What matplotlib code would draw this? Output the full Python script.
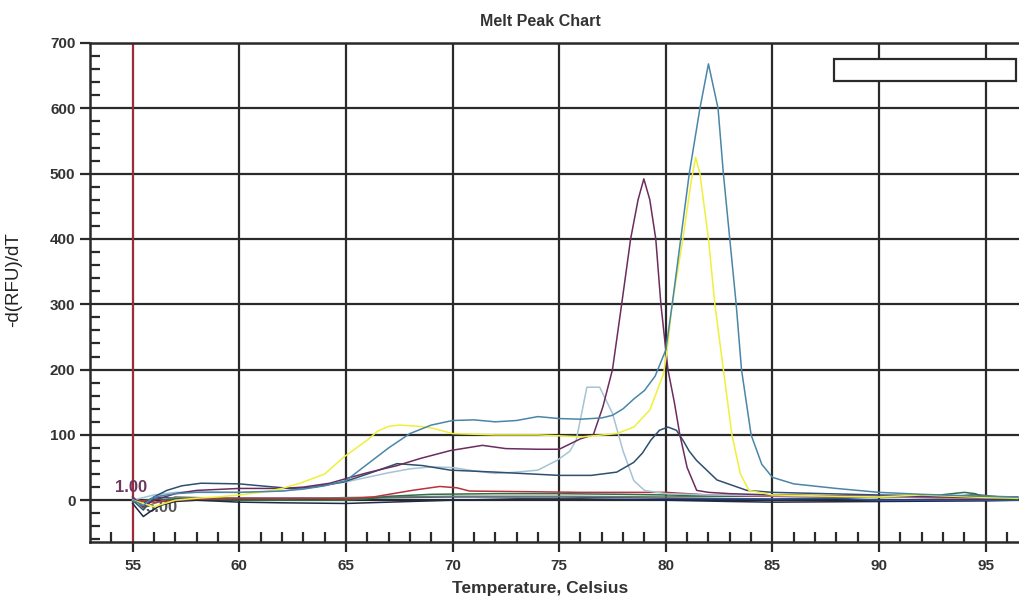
import matplotlib.pyplot as plt
from matplotlib.patches import Rectangle

plt.rcParams['font.family'] = ['Liberation Sans', 'DejaVu Sans']

# melt curves (temperature, -d(RFU)/dT)
steel_t = [55, 55.5, 56, 57, 58, 60, 62, 63, 64, 65, 66, 67, 68, 69, 70, 71, 72, 73, 74, 75, 76, 77,
           77.5, 78, 78.5, 79, 79.5, 80, 80.3, 80.7, 81.1, 81.6, 82.0, 82.45, 82.7, 83.0, 83.3, 83.55,
           84.0, 84.5, 85, 86, 88, 90, 92, 94, 95, 96.5]
steel_v = [0, -8, 5, 10, 12, 12, 14, 17, 22, 30, 55, 80, 102, 115, 122, 123, 120, 122, 128, 125, 124, 126,
           130, 140, 155, 168, 190, 230, 300, 400, 500, 600, 668, 600, 500, 400, 300, 200,
           100, 55, 35, 25, 18, 12, 9, 7, 6, 5]

grey_t = [55, 56, 57, 58, 60, 62, 63, 65, 66, 67, 68, 69, 70, 71, 72, 73, 74, 74.9, 75.5, 75.8, 76.3,
          76.9, 77.5, 78, 78.5, 79, 80, 82, 85, 90, 95, 96.5]
grey_v = [0, 8, 12, 13, 12, 14, 18, 28, 35, 42, 48, 51, 50, 45, 41, 43, 46, 61, 75, 92, 173,
          173, 133, 75, 30, 15, 10, 8, 7, 5, 4, 4]

yellow_t = [55, 56, 57, 58, 59, 60, 61, 62, 62.85, 64, 64.9, 66, 66.5, 67, 67.5, 68.5, 69.1, 70, 72, 74,
            76.1, 77.7, 78.5, 79.25, 79.9, 80.1, 80.3, 80.8, 81.2, 81.4, 81.6, 82.0, 82.3, 82.7, 83.1,
            83.5, 83.9, 85, 88, 90, 92, 95, 96.5]
yellow_v = [0, -10, 0, 3, 5, 8, 12, 18, 26, 40, 66, 92, 106, 113, 115, 113, 110, 102, 100, 100,
            97, 102, 112, 138, 194, 240, 300, 400, 490, 525, 500, 400, 300, 200, 100,
            40, 15, 8, 6, 5, 8, 4, 3]

purple_t = [55, 55.5, 56, 57, 58, 60, 61, 62, 63, 64.25, 65, 66, 67.4, 68.5, 69.9, 71.4, 72.5, 74, 75,
            76, 76.6, 77.05, 77.5, 77.93, 78.35, 78.7, 78.97, 79.25, 79.53, 79.77, 80.1, 80.4, 80.66,
            81.0, 81.45, 82, 83, 85, 90, 95, 96.5]
purple_v = [5, -10, 0, 10, 15, 18, 18, 18, 20, 26, 33, 42, 53, 64, 76, 84, 79, 78, 78,
            94, 100, 143, 200, 300, 400, 460, 492, 460, 400, 300, 200, 150, 100,
            50, 15, 12, 10, 8, 6, 4, 3]

slate_t = [55, 55.5, 56, 56.6, 57.3, 58.2, 60, 61, 62.4, 63.5, 64.9, 66, 67.4, 68.6, 69.9, 72, 75, 76.5,
           77.7, 78.5, 78.9, 79.3, 79.7, 80.1, 80.5, 80.8, 81.1, 81.44, 82.4, 83.8, 85, 90, 94, 96.5]
slate_v = [0, -15, 5, 15, 22, 26, 25, 22, 18, 20, 28, 40, 56, 53, 46, 43, 38, 38,
           43, 58, 72, 92, 107, 112, 107, 92, 75, 61, 31, 15, 12, 8, 6, 5]

red_t = [55, 56, 58, 60, 63, 65, 66.3, 68.1, 69.4, 70.2, 70.8, 73.6, 76, 80, 81, 82, 85, 90, 95, 96.5]
red_v = [0, -3, 2, 3, 3, 2, 5, 15, 21, 19, 14, 13, 12, 12, 10, 8, 6, 5, 3, 3]

green_t = [55, 56, 57, 58, 60, 63, 65, 66, 67, 69, 72, 75, 78, 80, 83, 85, 88, 90, 92, 94, 94.5, 95, 96.5]
green_v = [-3, 2, 0, 2, 0, 0, 0, 2, 6, 9, 10, 10, 9, 8, 6, 6, 5, 4, 5, 12, 10, 3, 2]

navy_t = [55, 55.5, 55.8, 56.3, 57, 58, 60, 62, 65, 68, 70, 73, 76, 80, 83, 85, 90, 95, 96.5]
navy_v = [-5, -25, -18, -8, -2, 0, -3, -4, -5, -2, 0, 2, 2, 0, -2, -3, -2, -1, 0]

blue_t = [55, 55.5, 56, 57, 60, 65, 70, 75, 80, 85, 88, 90, 95, 96.5]
blue_v = [0, -5, 5, 3, 3, 3, 5, 5, 3, 2, 3, 0, 0, 0]

olive_t = [55, 55.5, 56, 57, 59, 62, 65, 70, 75, 80, 83, 85, 90, 93, 94.5, 96.5]
olive_v = [5, -12, -5, 5, 3, 2, 4, 6, 6, 5, 6, 8, 5, 4, 9, 2]

curves = [
    (navy_t, navy_v, '#1f2a44'),
    (blue_t, blue_v, '#3050a0'),
    (olive_t, olive_v, '#6f7a5a'),
    (green_t, green_v, '#2d6e47'),
    (red_t, red_v, '#b8323f'),
    (grey_t, grey_v, '#a6c3d4'),
    (slate_t, slate_v, '#2e4f6e'),
    (purple_t, purple_v, '#6b2c5e'),
    (yellow_t, yellow_v, '#eef03a'),
    (steel_t, steel_v, '#4a86a8'),
]

fig = plt.figure(figsize=(10.19, 6), dpi=100)
ax = fig.add_axes([90 / 1019, 58 / 600, 949 / 1019, 499 / 600])

for t, v, c in curves:
    ax.plot(t, v, color=c, lw=1.1, zorder=3)

ax.set_xlim(53, 97.5)
ax.set_ylim(-64, 700)
ax.set_xticks(range(55, 96, 5))
ax.set_xticks(range(54, 98), minor=True)
ax.set_yticks(range(0, 701, 100))
ax.set_yticks(range(-60, 701, 20), minor=True)

ax.grid(which='major', color='#2a2a2a', lw=1.6, zorder=1)
ax.axvline(55, color='#c0283c', lw=1.2, zorder=2)

ax.tick_params(which='major', direction='out', length=7.5, width=1.6, color='#2a2a2a',
               labelsize=11, labelcolor='#333333', pad=3)
ax.tick_params(which='minor', direction='in', length=7.5, width=1.6, color='#2a2a2a')
ax.tick_params(axis='x', which='major', pad=5)
for lab in ax.get_xticklabels() + ax.get_yticklabels():
    lab.set_fontweight('bold')

for s in ['left', 'bottom', 'top']:
    ax.spines[s].set_linewidth(1.8)
    ax.spines[s].set_color('#2a2a2a')
ax.spines['right'].set_visible(False)

ax.set_xlabel('Temperature, Celsius', fontsize=12.5, fontweight='bold', color='#333333')
ax.xaxis.set_label_coords(0.474, -0.078)
ax.set_ylabel('-d(RFU)/dT', fontsize=13.5, color='#222222')
ax.yaxis.set_label_coords(-0.072, 0.525)

fig.text(540 / 1019, 1 - 22 / 600, 'Melt Peak Chart', ha='center', va='center',
         fontsize=11.5, fontweight='bold', color='#333333')

ax.text(54.15, 20, '1.00', color='#6b3a5e', fontsize=12, fontweight='bold', va='center', zorder=2)
ax.text(55.6, -11, '5.00', color='#555555', fontsize=12, fontweight='bold', va='center', zorder=2)

# empty legend box
ax.add_patch(Rectangle((87.9, 642), 8.5, 34, facecolor='white', edgecolor='#2a2a2a',
                       lw=1.6, zorder=5))

plt.savefig('out.png', dpi=100)
